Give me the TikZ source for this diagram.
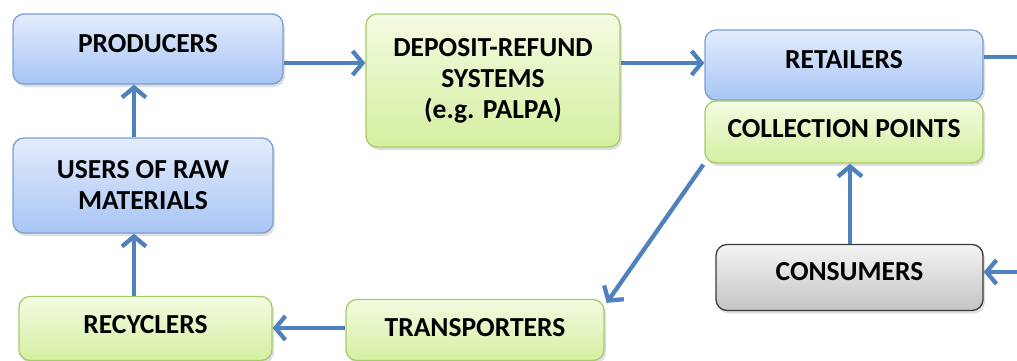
\documentclass[tikz,border=0pt]{standalone}
\usepackage{fontspec}
\setmainfont{Carlito}
\usetikzlibrary{arrows.meta,shadows}
\definecolor{flow}{HTML}{4F81BD}
\definecolor{blueedge}{HTML}{7D9FD3}
\definecolor{bluetop}{HTML}{E3ECFC}
\definecolor{bluebot}{HTML}{A8C5F4}
\definecolor{greenedge}{HTML}{A6CC6A}
\definecolor{greentop}{HTML}{F4FBE2}
\definecolor{greenbot}{HTML}{D4EFA0}
\definecolor{grayedge}{HTML}{3A3A3A}
\definecolor{graytop}{HTML}{F4F4F4}
\definecolor{graybot}{HTML}{C4C4C4}
\tikzset{
  box/.style={rounded corners=11pt, line width=1.3pt, align=center,
    font=\bfseries\fontsize{27.5}{31}\selectfont, inner sep=0pt,
    drop shadow={shadow xshift=2pt, shadow yshift=-3pt, opacity=0.25}},
  bluebox/.style={box, draw=blueedge, top color=bluetop, bottom color=bluebot},
  greenbox/.style={box, draw=greenedge, top color=greentop, bottom color=greenbot},
  graybox/.style={box, draw=grayedge, top color=graytop, bottom color=graybot},
  % single-line label raised by half of the given depth
  raised/.style={text height=17.5pt, text depth=#1},
  flowline/.style={draw=flow, line width=4.3pt,
    -{Straight Barb[length=10pt, width=24pt, line width=4.3pt]}},
}
\begin{document}
\begin{tikzpicture}[x=1pt, y=-1pt]
\useasboundingbox (0,0) rectangle (1017,361);
\clip (0,0) rectangle (1017,361);

% stations of the return chain
\node[bluebox, raised=11pt, minimum width=270pt, minimum height=70pt] (prod) at (148,49) {PRODUCERS};
\node[greenbox, minimum width=254pt, minimum height=133pt] (dep) at (493,80.5)
  {DEPOSIT-REFUND\\SYSTEMS\\(e.g. PALPA)};
\node[bluebox, raised=11pt, minimum width=278pt, minimum height=70pt] (ret) at (844,65) {RETAILERS};
\node[greenbox, raised=7pt, minimum width=278pt, minimum height=62pt] (coll) at (844,132) {COLLECTION POINTS};
\node[bluebox, minimum width=260pt, minimum height=95pt] (users) at (143,185.5)
  {USERS OF RAW\\MATERIALS};
\node[graybox, raised=11pt, minimum width=267pt, minimum height=66pt] (cons) at (849.5,277.5) {CONSUMERS};
\node[greenbox, raised=8pt, minimum width=253pt, minimum height=64pt] (rec) at (145.5,328.5) {RECYCLERS};
\node[greenbox, raised=5pt, minimum width=258pt, minimum height=61pt] (trans) at (475,330) {TRANSPORTERS};

% flows between the stations
\draw[flowline] (prod.east |- 0,63) -- (dep.west |- 0,63);
\draw[flowline] (dep.east |- 0,63) -- (ret.west |- 0,63);
\coordinate (loop) at (1045,57);
\draw[flowline] (ret.east |- 0,57) -- (loop) |- (cons.east |- 0,272);
\draw[flowline] (cons.north -| 850,0) -- (coll.south -| 850,0);
\draw[flowline] ([shift={(-1,1)}]coll.south west) -- ([shift={(2,4)}]trans.north east);
\draw[flowline] (trans.west |- 0,328) -- (rec.east |- 0,328);
\draw[flowline] (rec.north -| 134,0) -- (users.south -| 134,0);
\draw[flowline] (users.north -| 134,0) -- (prod.south -| 134,0);
\end{tikzpicture}
\end{document}
